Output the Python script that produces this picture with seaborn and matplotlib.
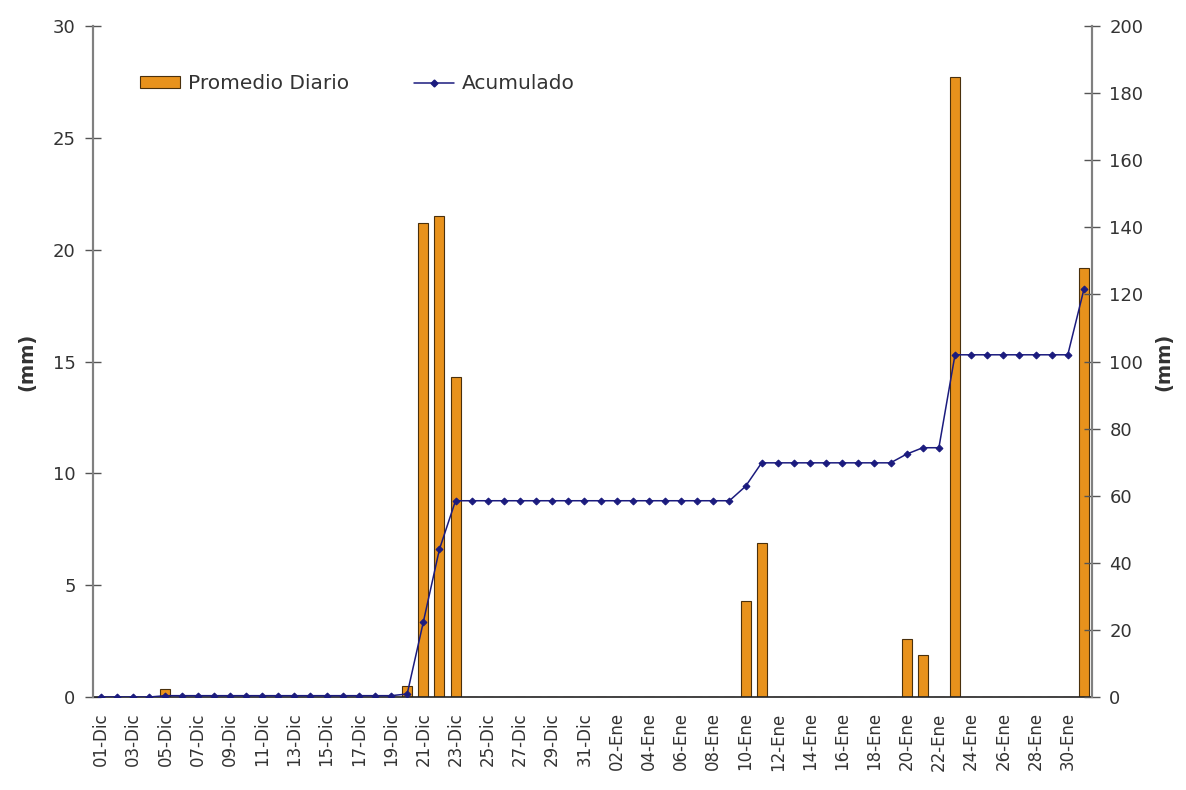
import matplotlib
matplotlib.use("Agg")
import matplotlib.pyplot as plt
import numpy as np
import pandas as pd
import seaborn as sns
from matplotlib.patches import Patch
from matplotlib.lines import Line2D

# one category per day, 01-Dic .. 31-Ene
dias = [f"{d:02d}-Dic" for d in range(1, 32)] + [f"{d:02d}-Ene" for d in range(1, 32)]

# daily mean rainfall (mm), only the rainy days are non-zero
lluvia = {
    "05-Dic": 0.35, "20-Dic": 0.5, "21-Dic": 21.2, "22-Dic": 21.5, "23-Dic": 14.3,
    "10-Ene": 4.3, "11-Ene": 6.9, "20-Ene": 2.6, "21-Ene": 1.9,
    "23-Ene": 27.7, "31-Ene": 19.2,
}
promedio = [lluvia.get(d, 0.0) for d in dias]

# accumulated rainfall (mm), right axis
acumulado = (
    [0.0] * 4 + [0.4] * 15 + [0.9, 22.3, 44.0]
    + [58.5] * 18 + [62.8] + [69.8] * 9 + [72.4, 74.3, 74.3]
    + [102.0] * 8 + [121.5]
)

df = pd.DataFrame({"dia": dias, "promedio": promedio, "acumulado": acumulado})
df["pos"] = np.arange(len(df))

sns.set_style("white")
plt.rcParams["font.family"] = ["DejaVu Sans"]

BAR_COLOR = "#E8921C"
LINE_COLOR = "#1B1B7E"
TXT = "#333333"

fig = plt.figure(figsize=(11.86, 7.9), dpi=100)
ax = fig.add_axes([0.0784, 0.1177, 0.8423, 0.8494])

sns.barplot(data=df, x="dia", y="promedio", ax=ax, color=BAR_COLOR,
            width=0.62, edgecolor="#4a300c", linewidth=0.8, saturation=1)

ax2 = ax.twinx()
sns.lineplot(data=df, x="pos", y="acumulado", ax=ax2, color=LINE_COLOR,
             linewidth=1.1, marker="D", markersize=3.5,
             markeredgecolor=LINE_COLOR, markerfacecolor=LINE_COLOR)

ax.set_xlim(-0.5, len(dias) - 0.5)
ax2.set_xlim(-0.5, len(dias) - 0.5)
ax.set_ylim(0, 30)
ax2.set_ylim(0, 200)
ax.set_yticks(np.arange(0, 31, 5))
ax2.set_yticks(np.arange(0, 201, 20))

# labels on every other day, tick marks between days
ax.set_xticks(df["pos"][::2])
ax.set_xticklabels(df["dia"][::2], rotation=90, fontsize=12, color=TXT)
ax.set_xticks(np.arange(-0.5, len(dias), 1), minor=True)
ax.tick_params(axis="x", which="major", length=0, pad=11)
ax.tick_params(axis="x", which="minor", direction="inout", length=8, width=1, color="#333333")

for a in (ax, ax2):
    a.tick_params(axis="y", direction="inout", length=11, width=1, color="#555555",
                  labelsize=13, labelcolor=TXT, pad=7)

ax.set_xlabel("")
ax.set_ylabel("(mm)", fontsize=14, fontweight="bold", color=TXT, labelpad=12)
ax2.set_ylabel("(mm)", fontsize=14, fontweight="bold", color=TXT, labelpad=8)

for a in (ax, ax2):
    a.spines["top"].set_visible(False)
    a.spines["left"].set_color("#808080")
    a.spines["right"].set_color("#808080")
    a.spines["left"].set_linewidth(1.5)
    a.spines["right"].set_linewidth(1.5)
    a.spines["bottom"].set_color("#222222")
    a.spines["bottom"].set_linewidth(1.2)
ax2.spines["bottom"].set_visible(False)

handles = [
    Patch(facecolor=BAR_COLOR, edgecolor="#4a300c", linewidth=0.8),
    Line2D([], [], color=LINE_COLOR, linewidth=1.1, marker="D", markersize=3.5),
]
ax2.legend(handles, ["Promedio Diario", "Acumulado"], loc="center left",
           bbox_to_anchor=(0.047, 0.914), ncol=2, frameon=False, fontsize=14.5,
           borderaxespad=0, borderpad=0, handlelength=2.0, handleheight=0.5,
           handletextpad=0.4, columnspacing=3.2, labelcolor=TXT)

fig.savefig("out.png", dpi=100)
